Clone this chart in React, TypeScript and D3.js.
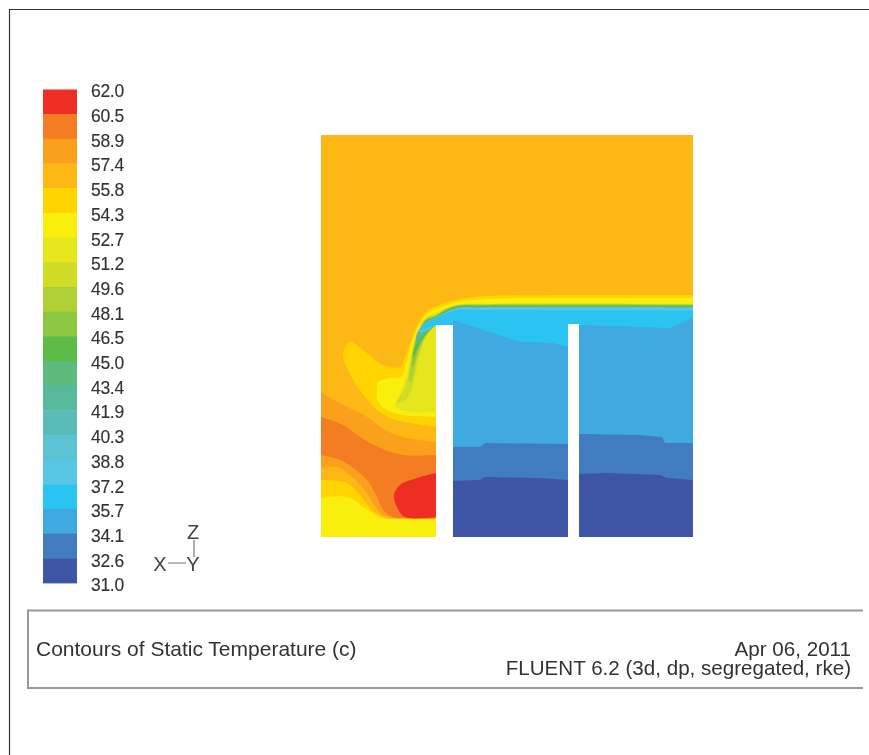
import React from "react";
import * as d3 from "d3";

type Pt = [number, number];
type Region = { level: number; parts: Pt[][] };

// Contour levels of static temperature (labels, top to bottom)
const levelLabels = ["62.0","60.5","58.9","57.4","55.8","54.3","52.7","51.2","49.6","48.1","46.5","45.0","43.4","41.9","40.3","38.8","37.2","35.7","34.1","32.6","31.0"];
const levelColors = ["#EE2E24","#F47C20","#FAA01C","#FDB813","#FFD400","#FAEE0C","#E6E61A","#CFDD28","#B0D136","#8DC63F","#5DBB46","#5FBA7D","#59BA9B","#5ABBB8","#5BC2D4","#58C6E4","#2CC3F2","#3FA9DF","#3F7CBF","#3C54A4"];

const DOMAIN_X = 372;
const DOMAIN_Z = 402;
// Gaps between the flow domains
const slots: [number, number, number][] = [[115, 132, 212], [247, 258, 213]];

const blobYellow: Pt[][] = [
  [[372,242],[180,241.5],[159,240.5],[134,237],[115,231],[104,224],[94,207],[89,194],[84,180],[79,170],[62,172],[46,184],[29,195],[22,184],[27,167],[39,147],[54,129],[69,119],[89,114],[115,110]],
  [[115,110],[115,200]],[[115,200],[372,200]],
];
const blobBright: Pt[][] = [
  [[372,239],[180,238.5],[159,237.5],[137,235],[115,228],[104,221],[94,203],[89,188],[85,172],[80,160],[69,159],[57,155],[56,147],[56,137],[66,127],[82,122],[115,120]],
  [[115,120],[115,200]],[[115,200],[372,200]],
];
const jetLime: Pt[][] = [
  [[372,233.5],[159,233.5],[137,232.5],[124,229],[115,224.5],[104,219],[94,199],[90,183],[86,163],[80,145],[74,131],[89,125],[115,125]],
  [[115,125],[115,200]],[[115,200],[372,200]],
];
const jetOlive: Pt[][] = [
  [[372,233],[159,233],[137,232],[124,228],[115,223],[104,218],[94,197],[91,183],[88,165],[83,148],[76,134],[86,138],[94,160],[99,185],[106,202],[115,212]],
  [[115,212],[372,212]],
];
const jetGreen1: Pt[][] = [
  [[372,232.5],[159,232.5],[137,231.7],[124,227.5],[115,222],[104,217],[94,195],[91,180],[88,155],[91,157],[95,175],[100,190],[107,204],[115,212]],
  [[115,212],[372,212]],
];
const jetGreen2: Pt[][] = [
  [[372,232],[159,232],[137,231.2],[124,227],[115,221],[104,216],[94,193],[91,170],[93,172],[97,187],[103,199],[110,208],[115,212]],
  [[115,212],[372,212]],
];
const jetGreen3: Pt[][] = [
  [[372,231.3],[159,231.3],[137,230.7],[124,226],[115,220.5],[104,215.5],[94,191],[92,180],[95,185],[100,196],[106,204],[112,210],[115,212]],
  [[115,212],[372,212]],
];
const jetTeal: Pt[][] = [
  [[372,230.5],[159,230.5],[137,230],[124,225],[115,220],[105,215],[96,203],[95,193],[98,197],[104,204],[111,209],[115,212]],
  [[115,212],[372,212]],
];
const jetPale: Pt[][] = [
  [[372,229.5],[159,229.5],[137,229],[124,224],[115,219.5],[105,214.5],[97,205],[104,206],[110,209],[115,212]],
  [[115,212],[372,212]],
];
const coreCyan: Pt[][] = [
  [[372,226.5],[159,227],[137,227],[124,223],[115,219],[105,214],[99,207],[104,208],[110,210],[115,212]],
  [[115,212],[115,190]],[[115,190],[372,190]],
];
const lowerAmber: Pt[][] = [
  [[0,145],[22,132],[46,120],[64,107],[86,99],[115,95]],
  [[115,95],[115,0]],[[115,0],[0,0]],
];
const lowerOrange: Pt[][] = [
  [[0,120],[22,112],[39,100],[59,89],[82,82],[115,82]],
  [[115,82],[115,19]],
  [[115,19],[76,19],[64,25],[54,44],[46,57],[32,69],[19,77],[0,82]],
];
const lowerGold: Pt[][] = [
  [[0,69],[16,70],[29,62],[42,49],[52,34],[62,22],[76,19]],
  [[76,19],[76,0]],[[76,0],[0,0]],
];
const lowerYellow: Pt[][] = [
  [[0,57],[26,54],[39,42],[51,27],[64,19],[80,18]],
  [[80,18],[80,0]],[[80,0],[0,0]],
];
const lowerBright: Pt[][] = [
  [[0,39],[26,40],[44,29],[61,19],[80,18.5],[115,18]],
  [[115,18],[115,0]],[[115,0],[0,0]],
];
const hotSpot: Pt[][] = [
  [[115,64],[96,59],[79,52],[73,42],[76,30],[84,20],[115,20]],
];

const regions: Region[] = [
  { level: 4, parts: blobYellow },
  { level: 5, parts: blobBright },
  { level: 6, parts: jetLime },
  { level: 7, parts: jetOlive },
  { level: 8, parts: jetGreen1 },
  { level: 9, parts: jetGreen2 },
  { level: 10, parts: jetGreen3 },
  { level: 12, parts: jetTeal },
  { level: 15, parts: jetPale },
  { level: 16, parts: coreCyan },
  { level: 2, parts: lowerAmber },
  { level: 1, parts: lowerOrange },
  { level: 3, parts: lowerGold },
  { level: 4, parts: lowerYellow },
  { level: 5, parts: lowerBright },
  { level: 0, parts: hotSpot },
];

// Block contours: straight-sided mesh bands
const blockBlue: Pt[][] = [
  [[132,217],[199,195],[232,194],[247,190],[247,0],[132,0]],
  [[258,212],[349,209],[372,219],[372,0],[258,0]],
];
const blockMid: Pt[][] = [
  [[132,90],[159,90],[164,94],[247,93],[247,0],[132,0]],
  [[258,103],[316,102],[341,100],[344,94],[372,94],[372,0],[258,0]],
];
const blockDark: Pt[][] = [
  [[132,56],[159,57],[164,60],[216,59],[247,57],[247,0],[132,0]],
  [[258,63],[286,64],[339,62],[346,59],[372,57],[372,0],[258,0]],
];
const blockLevels: [number, Pt[][]][] = [[17, blockBlue], [18, blockMid], [19, blockDark]];

const x = d3.scaleLinear().domain([0, DOMAIN_X]).range([321, 693]);
const z = d3.scaleLinear().domain([0, DOMAIN_Z]).range([537, 135]);
const legendY = d3.scaleLinear().domain([0, levelColors.length]).range([89.5, 583]);
const labelY = d3.scaleLinear().domain([0, levelLabels.length - 1]).range([91, 585]);

const smooth = d3.line<Pt>().x((d) => x(d[0])).y((d) => z(d[1])).curve(d3.curveCatmullRom.alpha(0.5));
const straight = d3.line<Pt>().x((d) => x(d[0])).y((d) => z(d[1]));

function regionPath(parts: Pt[][]) {
  return parts.map((p, i) => { const s = smooth(p) as string; return i === 0 ? s : s.replace(/^M/, "L"); }).join("") + "Z";
}

const FONT = "'Liberation Sans', Arial, sans-serif";
const INK = "#333";

export default function App() {
  return (
    <svg width={869} height={755} viewBox="0 0 869 755" style={{ position: "absolute", left: 0, top: 0, display: "block", background: "#fff" }} fontFamily={FONT}>
      <defs>
        <clipPath id="dom"><rect x={x(0)} y={z(DOMAIN_Z)} width={x(DOMAIN_X) - x(0)} height={z(0) - z(DOMAIN_Z)} /></clipPath>
        <filter id="soft" x="-5%" y="-5%" width="110%" height="110%"><feGaussianBlur stdDeviation={0.7} /></filter>
        <filter id="softText" x="-5%" y="-20%" width="110%" height="140%"><feGaussianBlur stdDeviation={0.5} /></filter>
      </defs>

      <path d="M9.5,755V9.5H869" fill="none" stroke="#333" strokeWidth={1.2} />

      <g filter="url(#soft)">
        <g clipPath="url(#dom)">
          <rect x={x(0)} y={z(DOMAIN_Z)} width={x(DOMAIN_X) - x(0)} height={z(0) - z(DOMAIN_Z)} fill={levelColors[3]} />
          {regions.map((r, i) => <path key={i} d={regionPath(r.parts)} fill={levelColors[r.level]} />)}
          {blockLevels.map(([lv, polys]) => polys.map((p, i) => <path key={lv + "-" + i} d={(straight(p) as string) + "Z"} fill={levelColors[lv]} />))}
          {slots.map(([a, b, top], i) => <rect key={i} x={x(a)} y={z(top)} width={x(b) - x(a)} height={z(0) - z(top) + 2} fill="#fff" />)}
        </g>
        {levelColors.map((c, i) => <rect key={i} x={43} y={legendY(i)} width={34} height={legendY(i + 1) - legendY(i) + 0.4} fill={c} />)}
      </g>

      <g filter="url(#softText)" fill={INK}>
        {levelLabels.map((t, i) => <text key={t} x={91} y={labelY(i)} dy="0.36em" fontSize={17.5} letterSpacing={-0.3} stroke={INK} strokeWidth={0.15}>{t}</text>)}
        <g fontSize={20} textAnchor="middle" fill="#444">
          <text x={193} y={539}>Z</text>
          <text x={160} y={571}>X</text>
          <text x={193} y={571}>Y</text>
        </g>
        <path d="M168,563H186M194,540V557" stroke="#777" strokeWidth={1.2} fill="none" />
        <text x={36} y={656} fontSize={21}>Contours of Static Temperature (c)</text>
        <text x={851} y={656} fontSize={20.6} textAnchor="end">Apr 06, 2011</text>
        <text x={851} y={675} fontSize={20.6} textAnchor="end">FLUENT 6.2 (3d, dp, segregated, rke)</text>
        <path d="M863,610.5H28V688H863" fill="none" stroke="#999" strokeWidth={2} />
      </g>
    </svg>
  );
}
